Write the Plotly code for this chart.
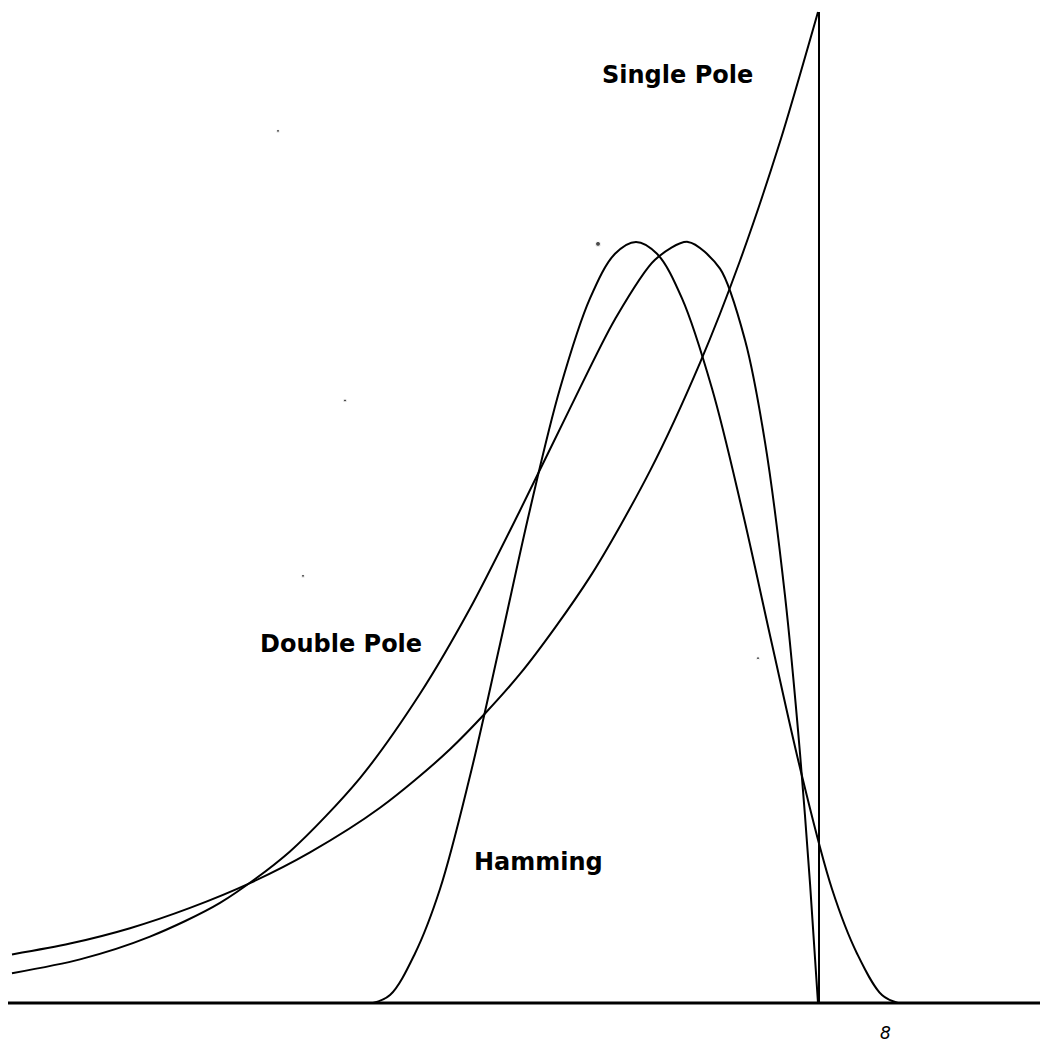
import plotly.graph_objects as go

# ---- data (x in horizontal chart units, y = normalized amplitude) ----
single_x = [12, 70, 130, 190, 250, 310, 380, 450, 520, 590, 650, 700, 740, 780, 818]
single_y = [0.049, 0.060, 0.0755, 0.096, 0.121, 0.152, 0.197, 0.256, 0.332, 0.430, 0.537, 0.646, 0.749, 0.869, 1.0]

single_drop_x = [819, 819]
single_drop_y = [1.0, 0.0]

double_x = [12, 80, 150, 220, 290, 360, 420, 470, 520, 570, 615, 655, 688, 720, 745, 765, 785, 800, 810, 818]
double_y = [0.030, 0.044, 0.067, 0.101, 0.153, 0.227, 0.312, 0.398, 0.497, 0.600, 0.690, 0.750, 0.768, 0.741, 0.669, 0.566, 0.411, 0.252, 0.121, 0.0]

hamming_x = [373, 390, 415, 440, 470, 500, 530, 560, 590, 615, 636, 657, 682, 712, 742, 772, 802, 832, 857, 882, 898]
hamming_y = [0.0, 0.008, 0.050, 0.115, 0.229, 0.362, 0.498, 0.620, 0.711, 0.756, 0.768, 0.756, 0.711, 0.620, 0.498, 0.362, 0.229, 0.115, 0.050, 0.008, 0.0]

baseline_x = [8, 1048]
baseline_y = [0.0, 0.0]

speck_x = [598, 278, 303, 345, 758]
speck_y = [0.766, 0.880, 0.431, 0.608, 0.348]
speck_size = [5, 3, 3, 3, 3]

labels = ["Single Pole", "Double Pole", "Hamming"]
label_x = [600, 258, 472]
label_y = [0.936, 0.362, 0.142]

page_note = "8"

fig = go.Figure()

fig.add_trace(go.Scatter(x=baseline_x, y=baseline_y, mode="lines",
                         line=dict(color="black", width=3), showlegend=False))
fig.add_trace(go.Scatter(x=single_x, y=single_y, mode="lines", name=labels[0],
                         line=dict(color="black", width=2, shape="spline", smoothing=0.8),
                         showlegend=False))
fig.add_trace(go.Scatter(x=single_drop_x, y=single_drop_y, mode="lines",
                         line=dict(color="black", width=2), showlegend=False))
fig.add_trace(go.Scatter(x=double_x, y=double_y, mode="lines", name=labels[1],
                         line=dict(color="black", width=2, shape="spline", smoothing=0.8),
                         showlegend=False))
fig.add_trace(go.Scatter(x=hamming_x, y=hamming_y, mode="lines", name=labels[2],
                         line=dict(color="black", width=2, shape="spline", smoothing=1.0),
                         showlegend=False))
fig.add_trace(go.Scatter(x=speck_x, y=speck_y, mode="markers",
                         marker=dict(color="black", size=speck_size), showlegend=False))

for txt, lx, ly in zip(labels, label_x, label_y):
    fig.add_annotation(x=lx, y=ly, text=txt, showarrow=False, xanchor="left",
                       yanchor="middle",
                       font=dict(family="DejaVu Sans", size=24, color="black", weight="bold"))

fig.add_annotation(x=885, y=-0.0420, text=page_note, showarrow=False, xanchor="center",
                   yanchor="bottom", font=dict(family="DejaVu Sans", size=17, color="black",
                                               style="italic", weight=300))

# page body has an 8px default margin; ranges chosen so data x equals page pixel x
fig.update_layout(
    width=1040, height=1037,
    margin=dict(l=0, r=0, t=0, b=0),
    paper_bgcolor="white", plot_bgcolor="white",
    xaxis=dict(range=[8, 1048], visible=False, fixedrange=True),
    yaxis=dict(range=[-0.04238, 1.00404], visible=False, fixedrange=True),
)

fig.write_html("out.html")
